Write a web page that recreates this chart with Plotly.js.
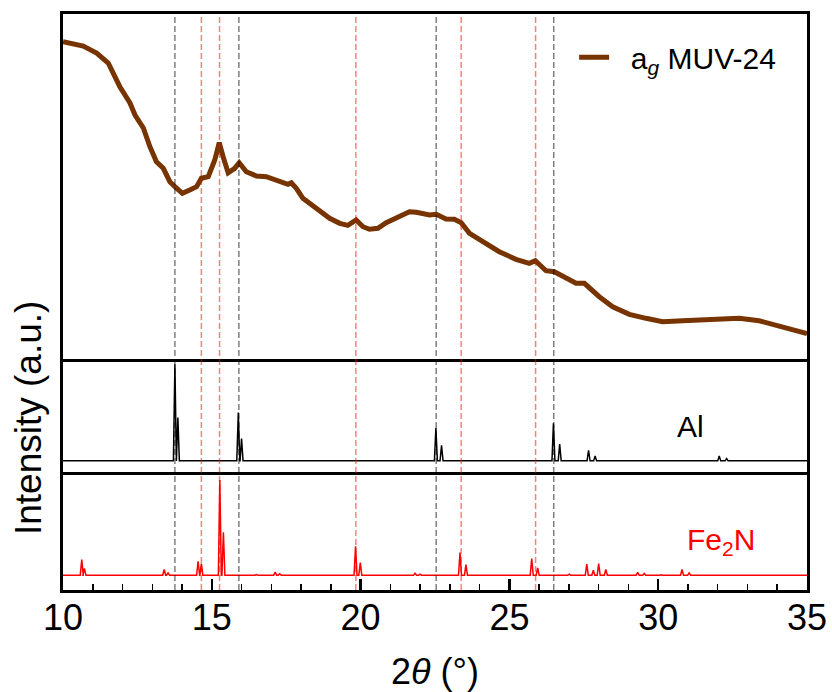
<!DOCTYPE html>
<html>
<head>
<meta charset="utf-8">
<script src="https://cdn.plot.ly/plotly-3.0.1.min.js"></script>
<style>html,body{margin:0;padding:0;background:#fff;}#chart{width:832px;height:692px;}</style>
</head>
<body>
<div id="chart"></div>
<script>
// ---- Measured pattern: a_g MUV-24 ----
var muvTheta = [10.0, 10.1, 10.35, 10.68, 11.13, 11.52, 11.91, 12.25, 12.42, 12.7, 12.92, 13.14, 13.37, 13.59, 13.76, 14.01, 14.26, 14.49, 14.65, 14.88, 15.1, 15.25, 15.38, 15.55, 15.77, 15.92, 16.16, 16.5, 16.83, 17.28, 17.56, 17.67, 17.84, 18.06, 18.51, 18.96, 19.3, 19.57, 19.85, 20.08, 20.3, 20.58, 20.86, 21.2, 21.64, 21.87, 22.32, 22.54, 22.87, 23.15, 23.38, 23.66, 24.1, 24.66, 25.22, 25.67, 25.87, 26.23, 26.51, 26.9, 27.24, 27.52, 28.02, 28.47, 29.03, 29.59, 30.15, 30.82, 31.49, 32.05, 32.72, 33.39, 33.95, 34.5, 35.0];
var muvIntensity = [317.3, 316.5, 315.7, 313, 306, 296, 272.3, 256, 244, 231, 212.3, 197.3, 190.7, 177.3, 172.3, 165.7, 169, 172.3, 180.7, 182.3, 199, 216.3, 202.3, 186.3, 190.7, 196.3, 187.3, 183, 182.3, 177.3, 174.7, 176.3, 170.7, 160.7, 150.7, 140.7, 135.7, 133.7, 139, 132.3, 129.7, 130.7, 136.3, 140.7, 147.3, 146.7, 144, 144.7, 140, 139.7, 136.3, 125.7, 117.3, 107.3, 99.7, 95.7, 98.3, 88.3, 87.3, 81.7, 75.7, 75.7, 62.3, 52.3, 44.7, 40.7, 37.3, 38.3, 39, 40.7, 40.7, 38.3, 34, 29, 25.5];

// ---- Reference pattern: Al ----
var alPeaks = [13.76, 13.86, 15.89, 16.00, 22.53, 22.72, 26.48, 26.69, 27.66, 27.88, 32.05, 32.30];
var alHeights = [100, 45, 50, 23, 34, 16, 39, 17.5, 11, 5, 5, 2.4];

// ---- Reference pattern: Fe2N ----
var fePeaks = [10.63, 10.72, 13.40, 13.53, 14.54, 14.65, 15.27, 15.39, 16.50, 17.13, 17.28, 19.83, 19.99, 21.83, 22.00, 23.34, 23.54, 25.75, 25.95, 27.01, 27.60, 27.82, 28.00, 28.24, 29.31, 29.53, 30.10, 30.80, 31.04, 32.38];
var feHeights = [16.4, 7, 5.9, 2.4, 14.6, 12.2, 100, 45.1, 0.7, 3.1, 1.4, 30.2, 13.2, 2.1, 1, 23.6, 11.1, 17.4, 7.6, 1, 11.5, 5.2, 12.2, 5.9, 2.8, 1.8, 0.5, 5.9, 2.4, 0.7];

// ---- Guide lines ----
var alGuides = [13.76, 15.91, 22.54, 26.49];
var feGuides = [14.65, 15.26, 19.84, 23.38, 25.88];

var xTickVals = [10, 15, 20, 25, 30, 35];
var xTickText = ['10', '15', '20', '25', '30', '35'];

function stickProfile(pos, hts, lo, hi, hw) {
  var xs = [lo], ys = [0];
  for (var i = 0; i < pos.length; i++) {
    xs.push(pos[i] - hw, pos[i], pos[i] + hw);
    ys.push(0, hts[i], 0);
  }
  xs.push(hi); ys.push(0);
  return {x: xs, y: ys};
}
var alProf = stickProfile(alPeaks, alHeights, 10, 35, 0.05);
var feProf = stickProfile(fePeaks, feHeights, 10, 35, 0.05);

var FONT = '"Liberation Sans", Arial, "DejaVu Sans", sans-serif';

var traces = [
  {x: muvTheta, y: muvIntensity, xaxis: 'x3', yaxis: 'y3', mode: 'lines', name: '\u00A0\u00A0a<sub><i>g</i></sub> MUV-24',
   line: {color: '#773300', width: 5}, showlegend: true},
  {x: alProf.x, y: alProf.y, xaxis: 'x2', yaxis: 'y2', mode: 'lines', name: 'Al',
   line: {color: '#000000', width: 1.5}, showlegend: false},
  {x: feProf.x, y: feProf.y, xaxis: 'x', yaxis: 'y', mode: 'lines', name: 'Fe2N',
   line: {color: '#ff0000', width: 1.5}, showlegend: false}
];

var shapes = [];
alGuides.forEach(function (g) {
  shapes.push({type: 'line', xref: 'x', yref: 'paper', x0: g, x1: g, y0: 0, y1: 1, layer: 'above',
    line: {color: 'rgba(0,0,0,0.5)', width: 1.5, dash: '6px,3px'}});
});
feGuides.forEach(function (g) {
  shapes.push({type: 'line', xref: 'x', yref: 'paper', x0: g, x1: g, y0: 0, y1: 1, layer: 'above',
    line: {color: 'rgba(255,0,0,0.5)', width: 1.5, dash: '6px,3px'}});
});

var frameAxis = {showline: true, linecolor: '#000', linewidth: 3, mirror: true, showgrid: false, zeroline: false};
function merge(a, b) { var o = {}; for (var k in a) o[k] = a[k]; for (var k2 in b) o[k2] = b[k2]; return o; }

var layout = {
  width: 832, height: 692,
  margin: {l: 63, r: 25, t: 14, b: 102},
  paper_bgcolor: '#fff', plot_bgcolor: '#fff',
  font: {family: FONT, color: '#000'},
  showlegend: true,
  legend: {x: 0.687, y: 0.925, xanchor: 'left', yanchor: 'middle', bgcolor: 'rgba(0,0,0,0)',
    borderwidth: 0, font: {size: 30, family: FONT, color: '#000'}, itemwidth: 30},
  xaxis: merge(frameAxis, {domain: [0, 1], anchor: 'y', range: [10, 35], tickmode: 'array', tickvals: xTickVals, ticktext: xTickText,
    ticks: 'inside', ticklen: 11, tickwidth: 2.5, tickcolor: '#000', tickfont: {size: 36, family: FONT}, ticklabelstandoff: -6,
    minor: {dtick: 1, tick0: 10, ticks: 'inside', ticklen: 6, tickwidth: 1.5, tickcolor: '#000'}}),
  yaxis: merge(frameAxis, {domain: [0, 0.1997], anchor: 'x', range: [-15.6, 105.2], showticklabels: false, ticks: ''}),
  xaxis2: merge(frameAxis, {domain: [0, 1], anchor: 'y2', matches: 'x', range: [10, 35], showticklabels: false, ticks: '', showline: false}),
  yaxis2: merge(frameAxis, {domain: [0.1997, 0.401], anchor: 'x2', range: [-14.6, 105.5], showticklabels: false, ticks: ''}),
  xaxis3: merge(frameAxis, {domain: [0, 1], anchor: 'y3', matches: 'x', range: [10, 35], showticklabels: false, ticks: ''}),
  yaxis3: merge(frameAxis, {domain: [0.401, 1], anchor: 'x3', range: [0, 345], showticklabels: false, ticks: ''}),
  shapes: shapes,
  annotations: [
    {text: 'Al', xref: 'x2', yref: 'y2', x: 31.1, y: 35.5, showarrow: false, xanchor: 'center', yanchor: 'middle',
     font: {size: 30, color: '#000', family: FONT}},
    {text: 'Fe<sub>2</sub>N', xref: 'x', yref: 'y', x: 32.1, y: 35.4, showarrow: false, xanchor: 'center', yanchor: 'middle',
     font: {size: 30, color: '#ff0000', family: FONT}},
    {text: 'Intensity (a.u.)', xref: 'paper', yref: 'paper', x: -0.047, y: 0.2986, textangle: -90, showarrow: false,
     xanchor: 'center', yanchor: 'middle', font: {size: 37, color: '#000', family: FONT}},
    {text: '2<i>θ</i> (°)', xref: 'paper', yref: 'paper', x: 0.5, y: -0.142, showarrow: false,
     xanchor: 'center', yanchor: 'middle', font: {size: 36, color: '#000', family: FONT}}
  ]
};

Plotly.newPlot('chart', traces, layout, {displayModeBar: false, staticPlot: true});
</script>
</body>
</html>
